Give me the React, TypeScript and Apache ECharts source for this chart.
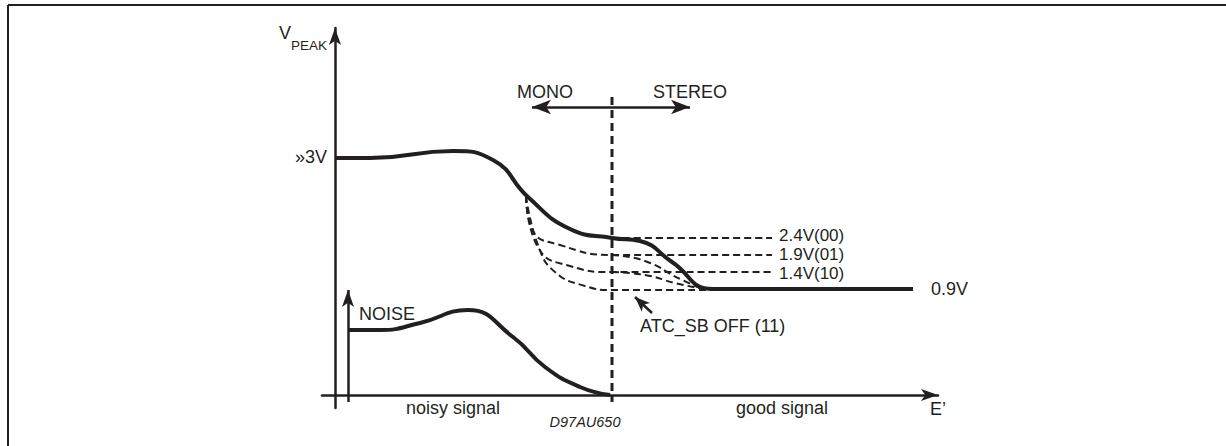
import React, { useEffect, useRef } from "react";
import * as echarts from "echarts";

// Schematic units: x = field strength E' (arbitrary), y = V_PEAK (arbitrary)
const mainCurve = [[0,23.7],[3.5,23.7],[11.8,24.4],[15.8,23.5],[19.3,19.8],[23.5,16.6],[27.7,15.7],[30.5,15.4],[33.7,13.3],[37.8,10.6],[57.8,10.6]];
const noiseCurve = [[1.3,6.5],[4.5,6.5],[8.5,7.2],[13.3,8.5],[17.8,5.8],[21,2.8],[24.5,0.8],[27.5,0]];
const level24 = [[27.7,15.7],[43.7,15.7]];
const level19 = [[19.1,19.9],[19.8,16.4],[22.5,15],[27.7,14],[43.7,14]];
const level14 = [[19.1,19.9],[20.4,14.6],[23.5,12.9],[27.7,12.3],[43.7,12.3]];
const levelOff = [[19.1,19.9],[20.3,15],[22,12.3],[25,10.9],[27.7,10.5],[37.8,10.5]];
const blend19 = [[27.7,14],[31,13.4],[34.5,11.6],[36.8,10.6]];
const blend14 = [[27.7,12.3],[31,12],[34,11.2],[36.8,10.6]];
const divider = [[27.7,29.8],[27.7,-0.7]];
const monoStereoArrow = [[19.7,28.8],[35.5,28.8]];
const noiseArrow = [[1.3,-0.7],[1.3,10.5]];
const offArrow = [[31.7,8.2],[30,9.8]];

const levelLabels = ["2.4V(00)", "1.9V(01)", "1.4V(10)"];
const floorLabel = "0.9V";
const yTickLabel = "»3V";

const FONT = '"Liberation Sans", Arial, Helvetica, sans-serif';
const INK = "#231f20";
const FS = 18;

export default function App() {
  const ref = useRef<HTMLDivElement>(null);
  useEffect(() => {
    const chart = echarts.init(ref.current!, null, { renderer: "svg" });
    const solid = (name: string, data: number[][], label?: string) => ({
      type: "line", name, data, smooth: 0.5, symbol: "none", clip: false,
      lineStyle: { color: INK, width: 4 }, silent: true,
      endLabel: label ? { show: true, formatter: label, distance: 18, fontSize: FS, fontFamily: FONT, color: INK } : undefined,
    });
    const dashed = (name: string, data: number[][], label?: string, dy = 0) => ({
      type: "line", name, data, smooth: 0.5, symbol: "none", clip: false,
      lineStyle: { color: INK, width: 2, type: [7, 4] }, silent: true,
      endLabel: label ? { show: true, formatter: label, distance: 7, offset: [0, dy], fontSize: 17, lineHeight: 17, fontFamily: FONT, color: INK } : undefined,
    });
    const arrowLine = (pts: number[][], startArrow: boolean, endArrow: boolean, size: number[], width: number) => [
      { coord: pts[0], symbol: startArrow ? "arrow" : "none", symbolSize: size, lineStyle: { color: INK, width, type: "solid" } },
      { coord: pts[1], symbol: endArrow ? "arrow" : "none", symbolSize: size },
    ];
    const text = (t: string, x: number, y: number, align: string, size = FS, extra: any = {}) => ({
      type: "text", x, y, silent: true,
      style: { text: t, fontSize: size, fontFamily: FONT, fill: INK, align, verticalAlign: "middle", ...extra },
    });
    chart.setOption({
      animation: false,
      backgroundColor: "#ffffff",
      grid: { left: 322, right: 288, top: 28, bottom: 38 },
      xAxis: {
        type: "value", min: -1.3, max: 60.3,
        axisLine: { onZero: true, symbol: ["none", "arrow"], symbolSize: [9, 17], lineStyle: { color: INK, width: 2.5 } },
        axisTick: { show: false }, axisLabel: { show: false }, splitLine: { show: false },
      },
      yAxis: {
        type: "value", min: -1.3, max: 36.7,
        axisLine: { onZero: true, symbol: ["none", "arrow"], symbolSize: [9, 17], lineStyle: { color: INK, width: 2.5 } },
        axisTick: { show: false }, axisLabel: { show: false }, splitLine: { show: false },
      },
      series: [
        dashed("2.4V", level24, levelLabels[0], -3),
        dashed("1.9V", level19, levelLabels[1], -1),
        dashed("1.4V", level14, levelLabels[2], 1),
        dashed("off", levelOff),
        dashed("blend19", blend19),
        dashed("blend14", blend14),
        {
          type: "line", name: "divider", data: divider, symbol: "none", clip: false, silent: true,
          lineStyle: { color: INK, width: 3, type: [8, 5] },
          markLine: {
            silent: true, animation: false, label: { show: false },
            data: [
              arrowLine(monoStereoArrow, true, true, [11, 19], 2.5),
              arrowLine(noiseArrow, false, true, [9, 17], 2.5),
              arrowLine(offArrow, false, true, [9, 15], 2.5),
            ],
          },
        },
        solid("main", mainCurve, floorLabel),
        solid("noise", noiseCurve),
      ],
      graphic: [
        { type: "line", silent: true, shape: { x1: 8, y1: 5, x2: 1226, y2: 5 }, style: { stroke: INK, lineWidth: 2 } },
        { type: "line", silent: true, shape: { x1: 8, y1: 5, x2: 8, y2: 446 }, style: { stroke: INK, lineWidth: 2 } },
        text("V", 291, 33, "right", FS),
        text("PEAK", 291, 45, "left", 13.5),
        text(yTickLabel, 327, 157, "right", FS),
        text("MONO", 545, 92, "center", FS),
        text("STEREO", 690, 92, "center", FS),
        text("NOISE", 359, 314, "left", FS),
        text("ATC_SB OFF (11)", 640, 326, "left", FS),
        text("noisy signal", 453, 408, "center", FS),
        text("good signal", 782, 408, "center", FS),
        text("E’", 930, 409, "left", FS),
        text("D97AU650", 585, 422, "center", 14.5, { fontStyle: "italic" }),
      ],
    });
    return () => chart.dispose();
  }, []);
  return <div ref={ref} style={{ position: "absolute", left: 0, top: 0, width: 1226, height: 446, background: "#fff" }} />;
}
